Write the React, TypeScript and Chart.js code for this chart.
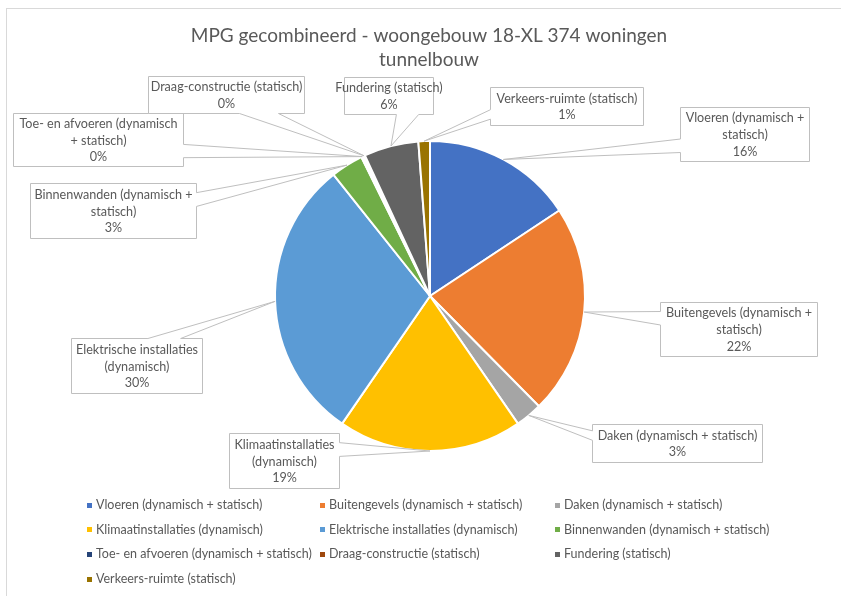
import React, { useEffect, useRef } from 'react';
import { Chart, registerables } from 'chart.js';

Chart.register(...registerables);

// ---------- data ----------
const categories = [
  'Vloeren (dynamisch + statisch)',
  'Buitengevels (dynamisch + statisch)',
  'Daken (dynamisch + statisch)',
  'Klimaatinstallaties (dynamisch)',
  'Elektrische installaties (dynamisch)',
  'Binnenwanden (dynamisch + statisch)',
  'Toe- en afvoeren (dynamisch + statisch)',
  'Draag-constructie (statisch)',
  'Fundering (statisch)',
  'Verkeers-ruimte (statisch)',
];
const shares = [15.7, 21.9, 2.8, 19.2, 29.7, 3.4, 0.2, 0.2, 5.7, 1.2];
const colors = ['#4472C4', '#ED7D31', '#A5A5A5', '#FFC000', '#5B9BD5', '#70AD47', '#264478', '#9E480E', '#636363', '#997300'];
const calloutLines = [
  ['Vloeren (dynamisch +', 'statisch)'],
  ['Buitengevels (dynamisch +', 'statisch)'],
  ['Daken (dynamisch + statisch)'],
  ['Klimaatinstallaties', '(dynamisch)'],
  ['Elektrische installaties', '(dynamisch)'],
  ['Binnenwanden (dynamisch +', 'statisch)'],
  ['Toe- en afvoeren (dynamisch', '+ statisch)'],
  ['Draag-constructie (statisch)'],
  ['Fundering (statisch)'],
  ['Verkeers-ruimte (statisch)'],
];
const titleLines = ['MPG gecombineerd - woongebouw 18-XL 374 woningen', 'tunnelbouw'];

// ---------- layout (x, y, w, h of callout boxes) ----------
const calloutBoxes = [
  [680, 107, 129, 54],
  [660, 302, 157, 54],
  [592, 424, 170, 38],
  [229, 433, 110, 55],
  [71, 338, 131, 55],
  [30, 183, 166, 55],
  [13, 113, 170, 53],
  [148, 76, 156, 37],
  [344, 77, 89, 37],
  [490, 87, 153, 38],
];
const legendCols = [87, 320, 555];
const legendRow0 = 505;
const legendRowStep = 24.7;

const FONT = 'Lato, "Open Sans", sans-serif';
const TEXT = '#595959';
const BORDER = '#bfbfbf';

function calloutPath(ctx: CanvasRenderingContext2D, x: number, y: number, w: number, h: number, ax: number, ay: number) {
  const cx = x + w / 2;
  const cy = y + h / 2;
  const dx = ((ax - cx) * h) / w;
  const dy = ay - cy;
  const horiz = Math.abs(dx) > Math.abs(dy);
  const seg = (neg: boolean) => (neg ? [2 / 12, 5 / 12] : [7 / 12, 10 / 12]);
  ctx.beginPath();
  ctx.moveTo(x, y);
  if (!horiz && dy < 0) {
    const a = seg(dx < 0);
    ctx.lineTo(x + w * a[0], y);
    ctx.lineTo(ax, ay);
    ctx.lineTo(x + w * a[1], y);
  }
  ctx.lineTo(x + w, y);
  if (horiz && dx > 0) {
    const a = seg(dy < 0);
    ctx.lineTo(x + w, y + h * a[0]);
    ctx.lineTo(ax, ay);
    ctx.lineTo(x + w, y + h * a[1]);
  }
  ctx.lineTo(x + w, y + h);
  if (!horiz && dy >= 0) {
    const a = seg(dx < 0);
    ctx.lineTo(x + w * a[1], y + h);
    ctx.lineTo(ax, ay);
    ctx.lineTo(x + w * a[0], y + h);
  }
  ctx.lineTo(x, y + h);
  if (horiz && dx <= 0) {
    const a = seg(dy < 0);
    ctx.lineTo(x, y + h * a[1]);
    ctx.lineTo(ax, ay);
    ctx.lineTo(x, y + h * a[0]);
  }
  ctx.closePath();
}

const decorPlugin = {
  id: 'decor',
  beforeDraw(chart: any) {
    const ctx = chart.ctx as CanvasRenderingContext2D;
    ctx.save();
    ctx.fillStyle = '#ffffff';
    ctx.fillRect(0, 0, chart.width, chart.height);
    ctx.strokeStyle = '#d9d9d9';
    ctx.lineWidth = 1;
    ctx.strokeRect(6.5, 8.5, chart.width + 10, chart.height + 10);
    // title
    ctx.fillStyle = TEXT;
    ctx.font = `19px ${FONT}`;
    ctx.textAlign = 'center';
    ctx.textBaseline = 'middle';
    titleLines.forEach((t, i) => ctx.fillText(t, 429, 35.5 + i * 24.5));
    ctx.restore();
  },
  afterDraw(chart: any) {
    const ctx = chart.ctx as CanvasRenderingContext2D;
    const meta = chart.getDatasetMeta(0);
    const data = chart.data.datasets[0].data as number[];
    const total = data.reduce((a, b) => a + b, 0);
    ctx.save();
    // callouts
    meta.data.forEach((arc: any, i: number) => {
      const p = arc.getProps(['x', 'y', 'startAngle', 'endAngle', 'outerRadius'], true);
      const mid = (p.startAngle + p.endAngle) / 2;
      const ax = p.x + Math.cos(mid) * p.outerRadius;
      const ay = p.y + Math.sin(mid) * p.outerRadius;
      const [bx, by, bw, bh] = calloutBoxes[i];
      calloutPath(ctx, bx + 0.5, by + 0.5, bw, bh, ax, ay);
      ctx.fillStyle = '#ffffff';
      ctx.fill();
      ctx.strokeStyle = BORDER;
      ctx.lineWidth = 1;
      ctx.stroke();
      const lines = [...calloutLines[i], Math.round((data[i] / total) * 100) + '%'];
      ctx.fillStyle = TEXT;
      ctx.font = `12.6px ${FONT}`;
      ctx.textAlign = 'center';
      ctx.textBaseline = 'middle';
      const lh = 16.6;
      const cy = by + bh / 2 + 1;
      lines.forEach((t, k) => {
        ctx.fillText(t, bx + bw / 2 + 0.5, cy + (k - (lines.length - 1) / 2) * lh);
      });
    });
    // legend
    ctx.font = `12.5px ${FONT}`;
    ctx.textAlign = 'left';
    ctx.textBaseline = 'middle';
    chart.data.labels.forEach((lab: string, i: number) => {
      const x = legendCols[i % 3];
      const y = legendRow0 + Math.floor(i / 3) * legendRowStep;
      ctx.fillStyle = colors[i];
      ctx.fillRect(x, Math.round(y - 2.5), 5, 5);
      ctx.fillStyle = TEXT;
      ctx.fillText(lab, x + 9, y);
    });
    ctx.restore();
  },
};

export default function App() {
  const ref = useRef<HTMLCanvasElement | null>(null);
  useEffect(() => {
    if (!ref.current) return;
    const chart = new Chart(ref.current, {
      type: 'pie',
      data: {
        labels: categories,
        datasets: [
          {
            data: shares,
            backgroundColor: colors,
            borderColor: '#ffffff',
            borderWidth: 2,
          },
        ],
      },
      options: {
        responsive: false,
        animation: false,
        devicePixelRatio: 1,
        radius: 155,
        rotation: 0,
        layout: { padding: { left: 120, right: 101, top: 140, bottom: 144 } },
        plugins: {
          legend: { display: false },
          title: { display: false },
          tooltip: { enabled: false },
        },
      } as any,
      plugins: [decorPlugin],
    });
    return () => chart.destroy();
  }, []);
  return (
    <div style={{ position: 'fixed', left: 0, top: 0, width: 841, height: 596, background: '#fff' }}>
      <canvas ref={ref} width={841} height={596} style={{ display: 'block', width: 841, height: 596 }} />
    </div>
  );
}
